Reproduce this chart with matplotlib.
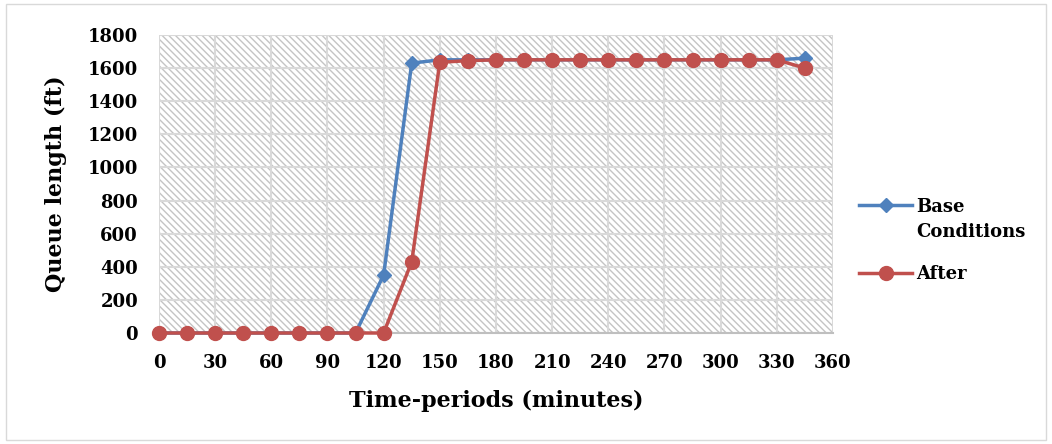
import matplotlib
matplotlib.use('Agg')
import matplotlib.pyplot as plt
from matplotlib.patches import Rectangle

plt.rcParams['font.family'] = ['DejaVu Serif']
plt.rcParams['font.weight'] = 'bold'
plt.rcParams['hatch.linewidth'] = 1.0

minutes = [0, 15, 30, 45, 60, 75, 90, 105, 120, 135, 150, 165, 180, 195, 210,
           225, 240, 255, 270, 285, 300, 315, 330, 345]
base = [0, 0, 0, 0, 0, 0, 0, 0, 350, 1630, 1650, 1650, 1650, 1650, 1650,
        1650, 1650, 1650, 1650, 1650, 1650, 1650, 1650, 1660]
after = [0, 0, 0, 0, 0, 0, 0, 0, 0, 430, 1635, 1645, 1650, 1650, 1650,
         1650, 1650, 1650, 1650, 1650, 1650, 1650, 1650, 1600]
x_ticks = list(range(0, 361, 30))
y_ticks = list(range(0, 1801, 200))

fig = plt.figure(figsize=(10.52, 4.44), dpi=100)
fig.patches.append(Rectangle((0.006, 0.01), 0.988, 0.98, transform=fig.transFigure,
                             fill=False, edgecolor='#d9d9d9', linewidth=1))
ax = fig.add_axes([0.1511, 0.25, 0.6407, 0.6712])

# hatched plot area
ax.add_patch(Rectangle((0, 0), 1, 1, transform=ax.transAxes, facecolor='white',
                       edgecolor='#c4c4c4', hatch='\\\\\\\\\\', linewidth=0, zorder=0))
ax.set_axisbelow(True)
ax.grid(True, color='#d9d9d9', linewidth=1.5, zorder=1)

ax.plot(minutes, base, '-', color='#4f81bd', linewidth=2.5, marker='D',
        markersize=7, label='Base', clip_on=False, zorder=3)
ax.plot(minutes, after, '-', color='#c0504d', linewidth=2.5, marker='o',
        markersize=10, label='After', clip_on=False, zorder=4)

ax.set_xlim(0, 360)
ax.set_ylim(0, 1800)
ax.set_xticks(x_ticks)
ax.set_yticks(y_ticks)
ax.tick_params(length=0, labelsize=13, pad=15)
for lab in ax.get_xticklabels() + ax.get_yticklabels():
    lab.set_fontweight('bold')
for s in ['top', 'right', 'left']:
    ax.spines[s].set_visible(False)
ax.spines['bottom'].set_color('#bfbfbf')
ax.spines['bottom'].set_linewidth(1.5)

ax.set_xlabel('Time-periods (minutes)', fontsize=16, fontweight='bold', labelpad=13)
ax.set_ylabel('Queue length (ft)', fontsize=16, fontweight='bold', labelpad=15)

# legend: handle sits on the first line of the label, second line as plain text
leg = fig.legend(loc='upper left', bbox_to_anchor=(0.817, 0.555), frameon=False,
                 prop={'weight': 'bold', 'size': 13}, handlelength=2.9,
                 handletextpad=0.25, labelspacing=2.75, borderpad=0, borderaxespad=0)
fig.canvas.draw()
bb = leg.get_texts()[0].get_window_extent()
x0 = bb.x0 / fig.bbox.width
fig.text(x0, 1 - 232 / 444, 'Conditions', fontsize=13, fontweight='bold',
         va='center', ha='left')

fig.savefig('out.png', dpi=100)
